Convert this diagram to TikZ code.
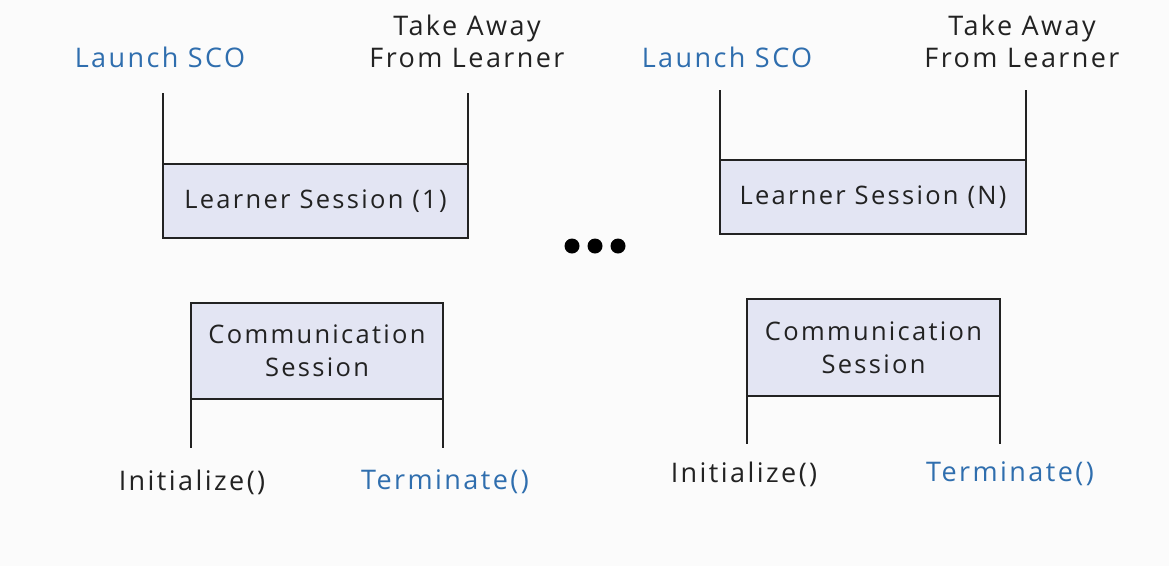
\documentclass[tikz,border=0pt]{standalone}
\usepackage{fontspec}
\setmainfont{Open Sans}[LetterSpace=9]
\definecolor{bgc}{HTML}{FBFBFB}
\definecolor{boxfill}{HTML}{E3E5F3}
\definecolor{lblue}{HTML}{2F6EAE}
\definecolor{ink}{HTML}{222222}
\tikzset{
  sess/.style={draw=ink, line width=2.6pt, fill=boxfill, inner sep=0pt, outer sep=0pt, font=\fontsize{25.5}{33}\selectfont, text=ink, align=center},
  wire/.style={draw=ink, line width=2.6pt},
  lbl/.style={font=\fontsize{27}{32}\selectfont, text=ink, align=center, inner sep=0pt},
  blbl/.style={lbl, text=lblue},
}
\begin{document}
\begin{tikzpicture}[x=1pt,y=-1pt]
\fill[bgc] (0,0) rectangle (1169,566);
\useasboundingbox (0,0) rectangle (1169,566);

% Learner sessions
\node[sess, minimum width=305pt, minimum height=74pt] (ls1) at (315.5,201) {Learner Session (1)};
\node[sess, minimum width=306pt, minimum height=74pt] (lsn) at (873,197) {Learner Session (N)};
\coordinate (ls1l) at (163,93);
\coordinate (ls1r) at (468,93);
\coordinate (lsnl) at (720,90);
\coordinate (lsnr) at (1026,90);
\draw[wire] (ls1.north west) -- (ls1l);
\draw[wire] (ls1.north east) -- (ls1r);
\draw[wire] (lsn.north west) -- (lsnl);
\draw[wire] (lsn.north east) -- (lsnr);

\node[blbl] (launch1) at (160,57) {Launch SCO};
\node[lbl] (take1) at (467,41) {Take Away\\From Learner};
\node[blbl] (launchn) at (727,57) {Launch SCO};
\node[lbl] (taken) at (1022,41) {Take Away\\From Learner};

% dots
\fill[black] (572,246) circle (7.5);
\fill[black] (595,246) circle (7.5);
\fill[black] (618,246) circle (7.5);

% Communication sessions
\node[sess, minimum width=252pt, minimum height=96pt] (cs1) at (317,351) {Communication\\Session};
\node[sess, minimum width=253pt, minimum height=97pt] (csn) at (873.5,347.5) {Communication\\Session};
\coordinate (cs1l) at (191,448);
\coordinate (cs1r) at (443,448);
\coordinate (csnl) at (747,444);
\coordinate (csnr) at (1000,444);
\draw[wire] (cs1.south west) -- (cs1l);
\draw[wire] (cs1.south east) -- (cs1r);
\draw[wire] (csn.south west) -- (csnl);
\draw[wire] (csn.south east) -- (csnr);

\node[lbl] (init1) at (192,482) {Initialize()};
\node[blbl] (term1) at (445,482) {Terminate()};
\node[lbl] (initn) at (744,474) {Initialize()};
\node[blbl] (termn) at (1010,474) {Terminate()};
\end{tikzpicture}
\end{document}
